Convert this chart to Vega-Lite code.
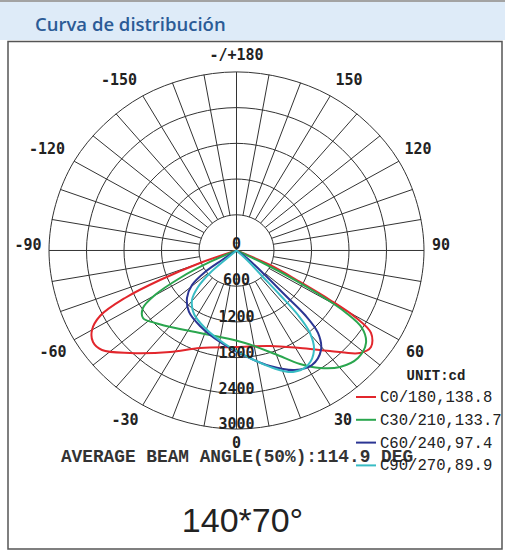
{
"$schema": "https://vega.github.io/schema/vega-lite/v6.json",
"width": 505, "height": 554,
"autosize": {"type": "fit", "contains": "padding"},
"padding": 0,
"background": "white",
"config": {
  "view": {"stroke": null},
  "legend": {"orient": "none", "legendX": 355, "legendY": 386, "padding": 0,
    "labelFont": "Liberation Mono", "labelFontSize": 15.6, "labelColor": "#222", "labelOffset": 3,
    "symbolType": "stroke", "symbolSize": 400, "symbolStrokeWidth": 2, "rowPadding": 2.8}
},
"datasets": {
  "rings": [
    {"r":600,"k":0,"x":0,"y":600},{"r":600,"k":1,"x":300,"y":519.6},{"r":600,"k":2,"x":519.6,"y":300},{"r":600,"k":3,"x":600,"y":0},{"r":600,"k":4,"x":519.6,"y":-300},{"r":600,"k":5,"x":300,"y":-519.6},{"r":600,"k":6,"x":0,"y":-600},{"r":600,"k":7,"x":-300,"y":-519.6},{"r":600,"k":8,"x":-519.6,"y":-300},{"r":600,"k":9,"x":-600,"y":0},{"r":600,"k":10,"x":-519.6,"y":300},{"r":600,"k":11,"x":-300,"y":519.6},
    {"r":1200,"k":0,"x":0,"y":1200},{"r":1200,"k":1,"x":600,"y":1039.2},{"r":1200,"k":2,"x":1039.2,"y":600},{"r":1200,"k":3,"x":1200,"y":0},{"r":1200,"k":4,"x":1039.2,"y":-600},{"r":1200,"k":5,"x":600,"y":-1039.2},{"r":1200,"k":6,"x":0,"y":-1200},{"r":1200,"k":7,"x":-600,"y":-1039.2},{"r":1200,"k":8,"x":-1039.2,"y":-600},{"r":1200,"k":9,"x":-1200,"y":0},{"r":1200,"k":10,"x":-1039.2,"y":600},{"r":1200,"k":11,"x":-600,"y":1039.2},
    {"r":1800,"k":0,"x":0,"y":1800},{"r":1800,"k":1,"x":900,"y":1558.8},{"r":1800,"k":2,"x":1558.8,"y":900},{"r":1800,"k":3,"x":1800,"y":0},{"r":1800,"k":4,"x":1558.8,"y":-900},{"r":1800,"k":5,"x":900,"y":-1558.8},{"r":1800,"k":6,"x":0,"y":-1800},{"r":1800,"k":7,"x":-900,"y":-1558.8},{"r":1800,"k":8,"x":-1558.8,"y":-900},{"r":1800,"k":9,"x":-1800,"y":0},{"r":1800,"k":10,"x":-1558.8,"y":900},{"r":1800,"k":11,"x":-900,"y":1558.8},
    {"r":2400,"k":0,"x":0,"y":2400},{"r":2400,"k":1,"x":1200,"y":2078.5},{"r":2400,"k":2,"x":2078.5,"y":1200},{"r":2400,"k":3,"x":2400,"y":0},{"r":2400,"k":4,"x":2078.5,"y":-1200},{"r":2400,"k":5,"x":1200,"y":-2078.5},{"r":2400,"k":6,"x":0,"y":-2400},{"r":2400,"k":7,"x":-1200,"y":-2078.5},{"r":2400,"k":8,"x":-2078.5,"y":-1200},{"r":2400,"k":9,"x":-2400,"y":0},{"r":2400,"k":10,"x":-2078.5,"y":1200},{"r":2400,"k":11,"x":-1200,"y":2078.5},
    {"r":3000,"k":0,"x":0,"y":3000},{"r":3000,"k":1,"x":1500,"y":2598.1},{"r":3000,"k":2,"x":2598.1,"y":1500},{"r":3000,"k":3,"x":3000,"y":0},{"r":3000,"k":4,"x":2598.1,"y":-1500},{"r":3000,"k":5,"x":1500,"y":-2598.1},{"r":3000,"k":6,"x":0,"y":-3000},{"r":3000,"k":7,"x":-1500,"y":-2598.1},{"r":3000,"k":8,"x":-2598.1,"y":-1500},{"r":3000,"k":9,"x":-3000,"y":0},{"r":3000,"k":10,"x":-2598.1,"y":1500},{"r":3000,"k":11,"x":-1500,"y":2598.1}
  ],
  "spokes": [
    {"x":0,"y":3000,"x2":0,"y2":-3000},{"x":-3000,"y":0,"x2":3000,"y2":0},
    {"x":104.2,"y":590.9,"x2":520.9,"y2":2954.4},{"x":104.2,"y":-590.9,"x2":520.9,"y2":-2954.4},{"x":-104.2,"y":590.9,"x2":-520.9,"y2":2954.4},{"x":-104.2,"y":-590.9,"x2":-520.9,"y2":-2954.4},
    {"x":205.2,"y":563.8,"x2":1026.1,"y2":2819.1},{"x":205.2,"y":-563.8,"x2":1026.1,"y2":-2819.1},{"x":-205.2,"y":563.8,"x2":-1026.1,"y2":2819.1},{"x":-205.2,"y":-563.8,"x2":-1026.1,"y2":-2819.1},
    {"x":300,"y":519.6,"x2":1500,"y2":2598.1},{"x":300,"y":-519.6,"x2":1500,"y2":-2598.1},{"x":-300,"y":519.6,"x2":-1500,"y2":2598.1},{"x":-300,"y":-519.6,"x2":-1500,"y2":-2598.1},
    {"x":385.7,"y":459.6,"x2":1928.4,"y2":2298.1},{"x":385.7,"y":-459.6,"x2":1928.4,"y2":-2298.1},{"x":-385.7,"y":459.6,"x2":-1928.4,"y2":2298.1},{"x":-385.7,"y":-459.6,"x2":-1928.4,"y2":-2298.1},
    {"x":459.6,"y":385.7,"x2":2298.1,"y2":1928.4},{"x":459.6,"y":-385.7,"x2":2298.1,"y2":-1928.4},{"x":-459.6,"y":385.7,"x2":-2298.1,"y2":1928.4},{"x":-459.6,"y":-385.7,"x2":-2298.1,"y2":-1928.4},
    {"x":519.6,"y":300,"x2":2598.1,"y2":1500},{"x":519.6,"y":-300,"x2":2598.1,"y2":-1500},{"x":-519.6,"y":300,"x2":-2598.1,"y2":1500},{"x":-519.6,"y":-300,"x2":-2598.1,"y2":-1500},
    {"x":563.8,"y":205.2,"x2":2819.1,"y2":1026.1},{"x":563.8,"y":-205.2,"x2":2819.1,"y2":-1026.1},{"x":-563.8,"y":205.2,"x2":-2819.1,"y2":1026.1},{"x":-563.8,"y":-205.2,"x2":-2819.1,"y2":-1026.1},
    {"x":590.9,"y":104.2,"x2":2954.4,"y2":520.9},{"x":590.9,"y":-104.2,"x2":2954.4,"y2":-520.9},{"x":-590.9,"y":104.2,"x2":-2954.4,"y2":520.9},{"x":-590.9,"y":-104.2,"x2":-2954.4,"y2":-520.9}
  ],
  "curves": [
    {"s":"C0/180,138.8","k":0,"x":0,"y":0},{"s":"C0/180,138.8","k":1,"x":-584,"y":-210},{"s":"C0/180,138.8","k":2,"x":-1224,"y":-496},{"s":"C0/180,138.8","k":3,"x":-1784,"y":-798},{"s":"C0/180,138.8","k":4,"x":-2184,"y":-1100},{"s":"C0/180,138.8","k":5,"x":-2312,"y":-1336},{"s":"C0/180,138.8","k":6,"x":-2296,"y":-1537},{"s":"C0/180,138.8","k":7,"x":-2152,"y":-1672},{"s":"C0/180,138.8","k":8,"x":-1704,"y":-1722},{"s":"C0/180,138.8","k":9,"x":-1064,"y":-1705},{"s":"C0/180,138.8","k":10,"x":-584,"y":-1638},{"s":"C0/180,138.8","k":11,"x":8,"y":-1621},{"s":"C0/180,138.8","k":12,"x":536,"y":-1604},{"s":"C0/180,138.8","k":13,"x":1016,"y":-1638},{"s":"C0/180,138.8","k":14,"x":1496,"y":-1688},{"s":"C0/180,138.8","k":15,"x":1976,"y":-1722},{"s":"C0/180,138.8","k":16,"x":2152,"y":-1621},{"s":"C0/180,138.8","k":17,"x":2152,"y":-1386},{"s":"C0/180,138.8","k":18,"x":1896,"y":-1117},{"s":"C0/180,138.8","k":19,"x":1496,"y":-832},{"s":"C0/180,138.8","k":20,"x":1016,"y":-529},{"s":"C0/180,138.8","k":21,"x":536,"y":-244},{"s":"C0/180,138.8","k":22,"x":0,"y":0},
    {"s":"C30/210,133.7","k":0,"x":0,"y":0},{"s":"C30/210,133.7","k":1,"x":-424,"y":-193},{"s":"C30/210,133.7","k":2,"x":-904,"y":-462},{"s":"C30/210,133.7","k":3,"x":-1304,"y":-748},{"s":"C30/210,133.7","k":4,"x":-1496,"y":-966},{"s":"C30/210,133.7","k":5,"x":-1496,"y":-1134},{"s":"C30/210,133.7","k":6,"x":-1304,"y":-1218},{"s":"C30/210,133.7","k":7,"x":-824,"y":-1336},{"s":"C30/210,133.7","k":8,"x":-344,"y":-1436},{"s":"C30/210,133.7","k":9,"x":136,"y":-1554},{"s":"C30/210,133.7","k":10,"x":616,"y":-1739},{"s":"C30/210,133.7","k":11,"x":1016,"y":-1907},{"s":"C30/210,133.7","k":12,"x":1336,"y":-1974},{"s":"C30/210,133.7","k":13,"x":1656,"y":-1957},{"s":"C30/210,133.7","k":14,"x":1944,"y":-1806},{"s":"C30/210,133.7","k":15,"x":2072,"y":-1554},{"s":"C30/210,133.7","k":16,"x":2008,"y":-1302},{"s":"C30/210,133.7","k":17,"x":1736,"y":-1033},{"s":"C30/210,133.7","k":18,"x":1336,"y":-748},{"s":"C30/210,133.7","k":19,"x":936,"y":-496},{"s":"C30/210,133.7","k":20,"x":456,"y":-227},{"s":"C30/210,133.7","k":21,"x":0,"y":0},
    {"s":"C60/240,97.4","k":0,"x":0,"y":0},{"s":"C60/240,97.4","k":1,"x":-232,"y":-160},{"s":"C60/240,97.4","k":2,"x":-504,"y":-361},{"s":"C60/240,97.4","k":3,"x":-712,"y":-580},{"s":"C60/240,97.4","k":4,"x":-792,"y":-798},{"s":"C60/240,97.4","k":5,"x":-760,"y":-1033},{"s":"C60/240,97.4","k":6,"x":-584,"y":-1268},{"s":"C60/240,97.4","k":7,"x":-264,"y":-1537},{"s":"C60/240,97.4","k":8,"x":136,"y":-1772},{"s":"C60/240,97.4","k":9,"x":536,"y":-1940},{"s":"C60/240,97.4","k":10,"x":936,"y":-2008},{"s":"C60/240,97.4","k":11,"x":1208,"y":-1924},{"s":"C60/240,97.4","k":12,"x":1352,"y":-1672},{"s":"C60/240,97.4","k":13,"x":1304,"y":-1386},{"s":"C60/240,97.4","k":14,"x":1096,"y":-1084},{"s":"C60/240,97.4","k":15,"x":776,"y":-748},{"s":"C60/240,97.4","k":16,"x":456,"y":-412},{"s":"C60/240,97.4","k":17,"x":184,"y":-143},{"s":"C60/240,97.4","k":18,"x":0,"y":0},
    {"s":"C90/270,89.9","k":0,"x":0,"y":0},{"s":"C90/270,89.9","k":1,"x":-184,"y":-160},{"s":"C90/270,89.9","k":2,"x":-424,"y":-378},{"s":"C90/270,89.9","k":3,"x":-616,"y":-613},{"s":"C90/270,89.9","k":4,"x":-712,"y":-832},{"s":"C90/270,89.9","k":5,"x":-680,"y":-1067},{"s":"C90/270,89.9","k":6,"x":-504,"y":-1302},{"s":"C90/270,89.9","k":7,"x":-184,"y":-1571},{"s":"C90/270,89.9","k":8,"x":216,"y":-1806},{"s":"C90/270,89.9","k":9,"x":584,"y":-1974},{"s":"C90/270,89.9","k":10,"x":904,"y":-2041},{"s":"C90/270,89.9","k":11,"x":1144,"y":-1924},{"s":"C90/270,89.9","k":12,"x":1240,"y":-1672},{"s":"C90/270,89.9","k":13,"x":1176,"y":-1386},{"s":"C90/270,89.9","k":14,"x":984,"y":-1084},{"s":"C90/270,89.9","k":15,"x":696,"y":-748},{"s":"C90/270,89.9","k":16,"x":408,"y":-428},{"s":"C90/270,89.9","k":17,"x":168,"y":-160},{"s":"C90/270,89.9","k":18,"x":0,"y":0}
  ],
  "labels": [
    {"t":"-/+180","x":0,"y":3284},{"t":"-150","x":-1880,"y":2864},{"t":"150","x":1800,"y":2864},{"t":"-120","x":-3032,"y":1705},{"t":"120","x":2904,"y":1705},{"t":"-90","x":-3336,"y":92},{"t":"90","x":3272,"y":92},{"t":"-60","x":-2936,"y":-1705},{"t":"60","x":2856,"y":-1705},{"t":"-30","x":-1784,"y":-2848},{"t":"30","x":1704,"y":-2848},{"t":"0","x":0,"y":-3242},{"t":"0","x":0,"y":109},{"t":"600","x":0,"y":-496},{"t":"1200","x":0,"y":-1117},{"t":"1800","x":0,"y":-1722},{"t":"2400","x":0,"y":-2327},{"t":"3000","x":0,"y":-2915}
  ]
},
"layer": [
  {"data": {"values": [{}]}, "mark": {"type": "rect", "color": "#deebf8"},
   "encoding": {
     "x": {"datum": -3784, "type": "quantitative", "scale": {"domain": [-3784, 4296], "nice": false, "zero": false}, "axis": null},
     "x2": {"datum": 4296},
     "y": {"datum": 4208, "type": "quantitative", "scale": {"domain": [-5099, 4208], "nice": false, "zero": false}, "axis": null},
     "y2": {"datum": 3536}}},
  {"data": {"values": [{}]}, "mark": {"type": "rect", "color": "#a3a3a3"},
   "encoding": {"x": {"datum": -3784, "type": "quantitative"}, "x2": {"datum": 4296}, "y": {"datum": 4208, "type": "quantitative"}, "y2": {"datum": 4174}}},
  {"data": {"values": [{}]}, "mark": {"type": "text", "align": "left", "baseline": "middle", "font": "Open Sans", "fontSize": 18.5, "fontWeight": 600, "color": "#2b5b96", "text": "Curva de distribución"},
   "encoding": {"x": {"datum": -3224, "type": "quantitative"}, "y": {"datum": 3780, "type": "quantitative"}}},
  {"data": {"values": [{}]}, "mark": {"type": "rect", "filled": false, "stroke": "#555", "strokeWidth": 1.5},
   "encoding": {"x": {"datum": -3656, "type": "quantitative"}, "x2": {"datum": 4248}, "y": {"datum": 3511, "type": "quantitative"}, "y2": {"datum": -5015}}},
  {"data": {"name": "rings"}, "mark": {"type": "line", "interpolate": "cardinal-closed", "stroke": "#333", "strokeWidth": 1},
   "encoding": {
     "x": {"field": "x", "type": "quantitative"}, "y": {"field": "y", "type": "quantitative"},
     "detail": {"field": "r", "type": "nominal"}, "order": {"field": "k", "type": "quantitative"}}},
  {"data": {"name": "spokes"}, "mark": {"type": "rule", "color": "#333", "strokeWidth": 1},
   "encoding": {"x": {"field": "x", "type": "quantitative"}, "y": {"field": "y", "type": "quantitative"}, "x2": {"field": "x2"}, "y2": {"field": "y2"}}},
  {"data": {"name": "curves"}, "mark": {"type": "line", "interpolate": "catmull-rom", "strokeWidth": 2},
   "encoding": {
     "x": {"field": "x", "type": "quantitative"}, "y": {"field": "y", "type": "quantitative"},
     "color": {"field": "s", "type": "nominal", "title": null,
       "scale": {"domain": ["C0/180,138.8", "C30/210,133.7", "C60/240,97.4", "C90/270,89.9"], "range": ["#e2262c", "#2aa64e", "#2b3593", "#38bcc4"]}},
     "order": {"field": "k", "type": "quantitative"}}},
  {"data": {"name": "labels"}, "mark": {"type": "text", "font": "DejaVu Sans Mono", "fontSize": 15, "fontWeight": "bold", "color": "#222", "baseline": "middle", "align": "center"},
   "encoding": {"x": {"field": "x", "type": "quantitative"}, "y": {"field": "y", "type": "quantitative"}, "text": {"field": "t"}}},
  {"data": {"values": [{}]}, "mark": {"type": "text", "font": "Liberation Mono", "fontSize": 14, "fontWeight": "bold", "color": "#222", "baseline": "middle", "align": "center", "text": "UNIT:cd"},
   "encoding": {"x": {"datum": 3192, "type": "quantitative"}, "y": {"datum": -2108, "type": "quantitative"}}},
  {"data": {"values": [{}]}, "mark": {"type": "text", "font": "Liberation Mono", "fontSize": 17.8, "fontWeight": "bold", "color": "#333", "baseline": "middle", "align": "center", "text": "AVERAGE BEAM ANGLE(50%):114.9 DEG"},
   "encoding": {"x": {"datum": 8, "type": "quantitative"}, "y": {"datum": -3469, "type": "quantitative"}}},
  {"data": {"values": [{}]}, "mark": {"type": "text", "font": "Liberation Sans", "fontSize": 34, "color": "#222", "baseline": "middle", "align": "center", "text": "140*70°"},
   "encoding": {"x": {"datum": 96, "type": "quantitative"}, "y": {"datum": -4561, "type": "quantitative"}}}
]
}
